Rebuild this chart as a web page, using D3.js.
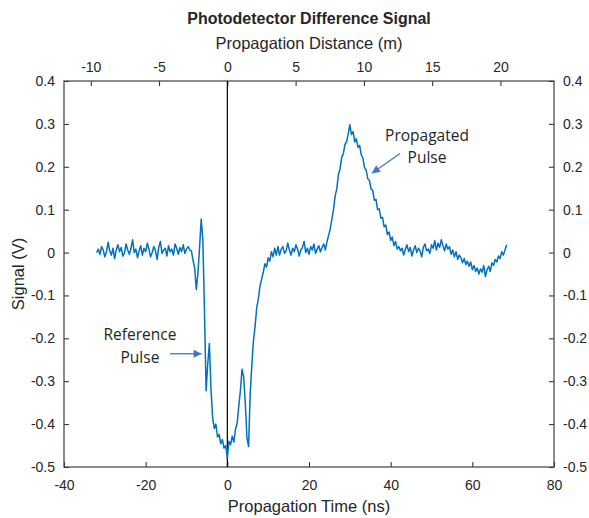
<!DOCTYPE html>
<html>
<head>
<meta charset="utf-8">
<script src="https://d3js.org/d3.v7.min.js"></script>
<style>
  body { margin: 0; background: #fff; }
  text { font-family: "Liberation Sans", Arial, sans-serif; fill: #262626; }
</style>
</head>
<body>
<svg width="589" height="518"></svg>
<script>

  // scope trace: one sample every 0.4 ns starting at -32 ns
  var timeStart = -32, timeStep = 0.4;
  var signal = [
    .000, .008, -.004, .014, .006, -.010, .002, .024, .004, -.006,
    .010, -.014, .006, .018, .002, .012, -.008, -.002, .020, .006,
    -.004, .010, .030, .000, .008, -.012, .004, .016, -.006, .010,
    .002, .022, .008, -.010, .000, .014, .004, -.016, .012, .026,
    -.002, .006, .010, -.008, .016, .002, .008, -.006, .020, .010,
    -.004, .012, .002, .018, -.002, .008, .014, .006,
    // reference pulse
    .004, -.018, -.036, -.086, -.048, .012, .078, .030, -.135, -.322,
    -.260, -.212, -.318, -.385, -.410, -.400, -.430, -.424, -.446, -.436,
    -.456, -.450, -.478,
    -.440, -.448, -.428, -.442, -.412, -.398, -.358, -.322, -.272, -.290,
    -.352, -.432, -.452, -.330, -.262, -.205, -.172, -.128, -.108, -.078,
    -.062, -.046, -.026, -.034, -.012, -.020, .002, -.010, .010, -.006,
    .014,
    -.006, .008, .014, -.002, .004, .022, .006, -.006, .010, .002,
    .018, .008, -.008, .006, .012, .026, .000, .010, -.004, .014,
    .006, .020, -.002, .008, .016, .002, .012, .020, .006,
    // propagated pulse
    .025, .040, .055, .078, .100, .132, .148, .182, .195, .222,
    .230, .252, .258, .276, .298, .275, .282, .258, .265, .245,
    .250, .228, .220, .198, .192, .172, .168, .148, .145, .122,
    .124, .100, .102, .080, .082, .060, .064, .042, .048, .028,
    .036, .016, .026, .008,
    .014, .004, .010, -.006, .008, .018, .002, .012, -.008, .006,
    .016, .000, .010, .004, -.010, .012, .020, .004, .008, -.002,
    .018, .010, .028, .006, .022, .012, .030, .016, .004, .020,
    .008, .014, -.004, .006, -.010, .002, -.016, -.006, -.012, -.024,
    -.014, -.028, -.020, -.032, -.022, -.040, -.030, -.044, -.036, -.050,
    -.038, -.046, -.030, -.056, -.040, -.032, -.044, -.024, -.030, -.016,
    -.022, -.008, -.014, .002, -.006, .006, .018
  ];

  var timeTicks = [-40, -20, 0, 20, 40, 60, 80];
  var distTicks = [-10, -5, 0, 5, 10, 15, 20];
  var signalTicks = [-0.5, -0.4, -0.3, -0.2, -0.1, 0, 0.1, 0.2, 0.3, 0.4];
  var metersPerNs = 0.299;

  var annotations = [
    { lines: ["Reference", "Pulse"], t: -21.4, v: [-0.204, -0.257], from: [-14.0, -0.236], to: [-6.3, -0.236] },
    { lines: ["Propagated", "Pulse"], t: 48.9, v: [0.261, 0.209], from: [42.3, 0.231], to: [35.4, 0.185] }
  ];

  var svg = d3.select("svg");
  var x = d3.scaleLinear().domain([-40, 80]).range([64, 554]);
  var xTop = d3.scaleLinear().domain([-40 * metersPerNs, 80 * metersPerNs]).range([64, 554]);
  var y = d3.scaleLinear().domain([-0.5, 0.4]).range([467, 81]);

  var fmt = function(d) { return String(+d.toFixed(1)); };

  function styleAxis(g) {
    g.select(".domain").remove();
    g.selectAll(".tick line").attr("stroke", "#262626");
    g.selectAll(".tick text").attr("font-size", 14).attr("font-family", "Liberation Sans, Arial, sans-serif").attr("fill", "#262626");
  }

  svg.append("g").attr("transform", "translate(0," + y(-0.5) + ")")
    .call(d3.axisBottom(x).tickValues(timeTicks).tickFormat(fmt).tickSizeInner(-5).tickSizeOuter(0).tickPadding(13))
    .call(styleAxis);
  svg.append("g").attr("transform", "translate(0," + y(0.4) + ")")
    .call(d3.axisTop(xTop).tickValues(distTicks).tickFormat(fmt).tickSizeInner(-5).tickSizeOuter(0).tickPadding(9))
    .call(styleAxis);
  svg.append("g").attr("transform", "translate(" + x(-40) + ",0)")
    .call(d3.axisLeft(y).tickValues(signalTicks).tickFormat(fmt).tickSizeInner(-5).tickSizeOuter(0).tickPadding(9))
    .call(styleAxis);
  svg.append("g").attr("transform", "translate(" + x(80) + ",0)")
    .call(d3.axisRight(y).tickValues(signalTicks).tickFormat(fmt).tickSizeInner(-5).tickSizeOuter(0).tickPadding(9))
    .call(styleAxis);

  // axes box
  svg.append("rect")
    .attr("x", x(-40)).attr("y", y(0.4))
    .attr("width", x(80) - x(-40)).attr("height", y(-0.5) - y(0.4))
    .attr("fill", "none").attr("stroke", "#404040").attr("stroke-width", 1.2);

  // t = 0 marker
  svg.append("line")
    .attr("x1", x(0)).attr("x2", x(0)).attr("y1", y(0.4)).attr("y2", y(-0.5))
    .attr("stroke", "#000").attr("stroke-width", 1.2);

  var line = d3.line()
    .x(function(d, i) { return x(timeStart + i * timeStep); })
    .y(function(d) { return y(d); });

  svg.append("path")
    .datum(signal)
    .attr("d", line)
    .attr("fill", "none")
    .attr("stroke", "#0072BD")
    .attr("stroke-width", 1.5)
    .attr("stroke-linejoin", "round");

  // titles
  svg.append("text").attr("x", 309).attr("y", 24).attr("text-anchor", "middle")
    .attr("font-size", 16).attr("font-weight", "bold").text("Photodetector Difference Signal");
  svg.append("text").attr("x", 309).attr("y", 49).attr("text-anchor", "middle")
    .attr("font-size", 16.5).text("Propagation Distance (m)");
  svg.append("text").attr("x", 309).attr("y", 512).attr("text-anchor", "middle")
    .attr("font-size", 16.5).text("Propagation Time (ns)");
  svg.append("text").attr("text-anchor", "middle")
    .attr("transform", "translate(24," + y(-0.05) + ")rotate(-90)")
    .attr("font-size", 16.5).text("Signal (V)");

  // annotations
  svg.append("defs").append("marker")
    .attr("id", "head").attr("viewBox", "0 0 10 10")
    .attr("refX", 10).attr("refY", 5)
    .attr("markerWidth", 9).attr("markerHeight", 8)
    .attr("markerUnits", "userSpaceOnUse")
    .attr("orient", "auto")
    .append("path").attr("d", "M0,0L10,5L0,10z").attr("fill", "#4472C4");

  annotations.forEach(function(a) {
    a.lines.forEach(function(s, i) {
      svg.append("text").attr("x", x(a.t)).attr("y", y(a.v[i]))
        .attr("text-anchor", "middle")
        .style("font-family", "'Open Sans', sans-serif")
        .attr("font-size", 15.5).text(s);
    });
    svg.append("line")
      .attr("x1", x(a.from[0])).attr("y1", y(a.from[1]))
      .attr("x2", x(a.to[0])).attr("y2", y(a.to[1]))
      .attr("stroke", "#4472C4").attr("stroke-width", 1.3)
      .attr("marker-end", "url(#head)");
  });
</script>
</body>
</html>
